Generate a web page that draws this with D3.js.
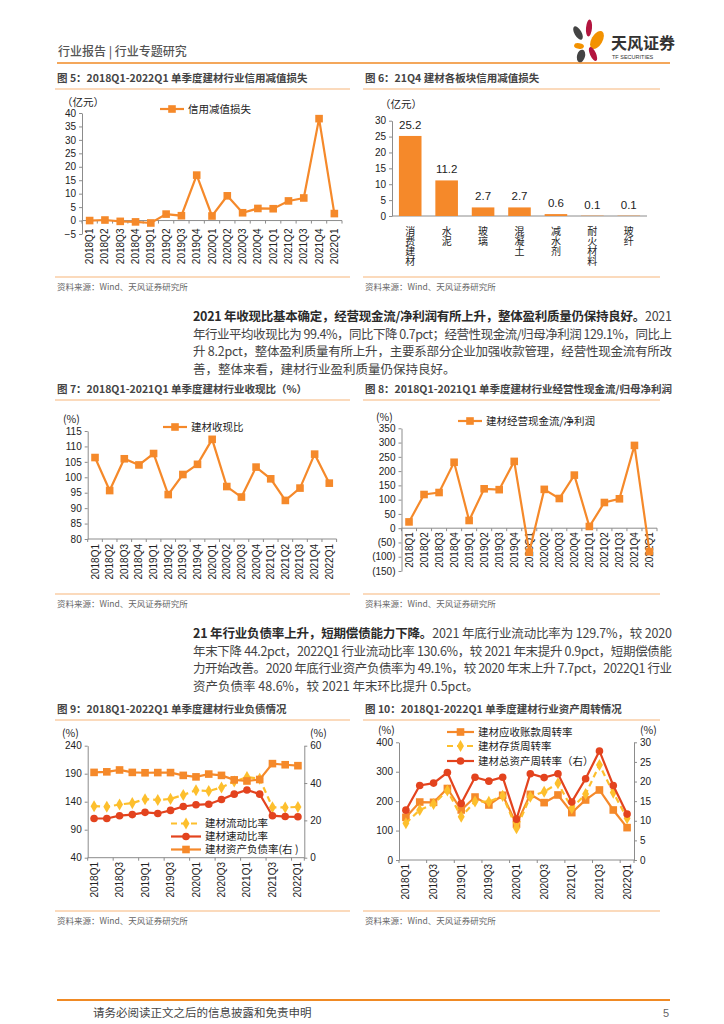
<!DOCTYPE html>
<html lang="zh-CN">
<head>
<meta charset="UTF-8">
<title>建材行业专题研究</title>
<script src="https://cdn.jsdelivr.net/npm/d3@7/dist/d3.min.js"></script>
<style>
	body { margin: 0; background: #fff; }
	svg { display: block; font-family: "Liberation Sans", "Noto Sans CJK SC", sans-serif; }
	.tick text { fill: #222; font-size: 10px; font-family: "Liberation Sans", "Noto Sans CJK SC", sans-serif; }
	.domain, .tick line { stroke: #8c8c8c; }
</style>
</head>
<body>
<svg width="724" height="1024"></svg>
<script>
// ---- data ----
const quarters = ["2018Q1","2018Q2","2018Q3","2018Q4","2019Q1","2019Q2","2019Q3","2019Q4",
	"2020Q1","2020Q2","2020Q3","2020Q4","2021Q1","2021Q2","2021Q3","2021Q4","2022Q1"];
const creditLoss = [0, 0.2, -0.3, -0.5, -0.9, 2.4, 1.8, 16.9, 1.7, 9.2, 2.9, 4.5, 4.4, 7.3, 8.4, 37.9, 2.6];
const sectors = ["消费建材","水泥","玻璃","混凝土","减水剂","耐火材料","玻纤"];
const sectorLoss = [25.2, 11.2, 2.7, 2.7, 0.6, 0.1, 0.1];
const cashRatio = [106.4, 95.7, 106, 104, 107.7, 94.4, 100.9, 104.2, 112.3, 97, 93.6, 103.3, 99.5, 92.5, 96.5, 107.5, 98.1];
const ocfRatio = [22, 118, 125, 231, 27, 138, 135, 234, -84, 136, 104, 186, 6, 90, 103, 290, -82];
const currentRatio = [132, 131, 135, 137.5, 144.5, 143, 145, 152, 160.5, 159, 165.5, 176, 184, 181, 130, 129.7, 130.6];
const quickRatio = [110, 110, 115, 117, 121, 119, 124.5, 131.5, 134.5, 135.5, 144, 153.5, 161, 153.5, 115, 113.5, 113];
const debtRatio = [45.7, 46, 47, 45.7, 45.5, 45.6, 45.6, 44.1, 43.3, 44.8, 44.1, 41.7, 41.1, 41.9, 50.4, 49.8, 49.3];
const arTurnover = [145, 197, 196, 243, 170, 214, 187, 220, 122, 223, 195, 221, 161, 204, 238, 170, 110];
const invTurnover = [125, 170, 190, 236, 147, 199, 198, 218, 108, 215, 232, 261, 176, 224, 323, 229, 142];
const assetTurnover = [12.7, 19.0, 19.6, 22.3, 14.4, 21.1, 20.1, 21.1, 10.4, 22.0, 21.0, 22.0, 14.8, 20.7, 27.8, 19.0, 11.7];

const ORANGE = "#F5892A", YELLOW = "#FDBF2D", RED = "#E3431E", LINE = "#F7B57A";

const svg = d3.select("svg");

// ---- page header / footer ----
svg.append("text").attr("x", 58).attr("y", 56).attr("font-size", 12).attr("fill", "#555")
	.attr("font-family", "Noto Sans CJK SC").attr("font-weight", 500).text("行业报告 | 行业专题研究");
svg.append("line").attr("x1", 57).attr("x2", 670).attr("y1", 63).attr("y2", 63)
	.attr("stroke", "#F08A24").attr("stroke-width", 1.6);
const logo = svg.append("g");
[[578, 33, 3.5, 7.5, -30, "#444"], [589, 28, 3, 8.5, 5, "#B3153F"], [597, 40, 5.5, 10, 30, "#F39200"],
 [579, 46, 5, 2.8, 10, "#F39200"], [593, 54, 3, 7.5, -25, "#B3153F"], [581, 56, 4, 6.5, 15, "#444"]]
	.forEach(p => logo.append("ellipse").attr("cx", p[0]).attr("cy", p[1]).attr("rx", p[2]).attr("ry", p[3])
		.attr("transform", `rotate(${p[4]},${p[0]},${p[1]})`).attr("fill", p[5]));
svg.append("text").attr("x", 611).attr("y", 49).attr("font-size", 16).attr("font-weight", "bold")
	.attr("fill", "#333").attr("font-family", "Noto Sans CJK SC").text("天风证券");
svg.append("text").attr("x", 612).attr("y", 59).attr("font-size", 5.5).attr("fill", "#333").text("TF SECURITIES");

svg.append("line").attr("x1", 57).attr("x2", 670).attr("y1", 1000).attr("y2", 1000)
	.attr("stroke", "#F08A24").attr("stroke-width", 2);
svg.append("text").attr("x", 93).attr("y", 1017).attr("font-size", 11.5).attr("fill", "#444")
	.attr("font-family", "Noto Sans CJK SC").text("请务必阅读正文之后的信息披露和免责申明");
svg.append("text").attr("x", 663).attr("y", 1017).attr("font-size", 11).attr("fill", "#666").text("5");

// ---- figure frame: title, underline, source ----
function frame(x0, x1, titleY, srcY, title) {
	svg.append("text").attr("x", x0 + 2).attr("y", titleY).attr("font-size", 10.5).attr("font-weight", "bold")
		.attr("fill", "#444").attr("font-family", "Noto Sans CJK SC").text(title);
	svg.append("line").attr("x1", x0).attr("x2", x1).attr("y1", titleY + 7).attr("y2", titleY + 7)
		.attr("stroke", LINE).attr("stroke-width", 1.2);
	svg.append("line").attr("x1", x0).attr("x2", x1).attr("y1", srcY - 13).attr("y2", srcY - 13)
		.attr("stroke", LINE).attr("stroke-width", 1.2);
	svg.append("text").attr("x", x0 + 2).attr("y", srcY).attr("font-size", 8.5).attr("fill", "#666")
		.attr("font-family", "Noto Sans CJK SC").text("资料来源：Wind、天风证券研究所");
}
frame(55, 350, 82, 290, "图 5：2018Q1-2022Q1 单季度建材行业信用减值损失");
frame(363, 660, 82, 290, "图 6：21Q4 建材各板块信用减值损失");
frame(55, 350, 393, 607, "图 7：2018Q1-2021Q1 单季度建材行业收现比（%）");
frame(363, 660, 393, 607, "图 8：2018Q1-2021Q1 单季度建材行业经营性现金流/归母净利润");
frame(55, 350, 713, 924, "图 9：2018Q1-2022Q1 单季度建材行业负债情况");
frame(363, 660, 713, 924, "图 10：2018Q1-2022Q1 单季度建材行业资产周转情况");

// ---- body paragraphs ----
function paragraph(y0, lines) {
	lines.forEach((ln, i) => {
		const t = svg.append("text").attr("x", 193).attr("y", y0 + i * 17.6).attr("font-size", 12.5)
			.attr("fill", "#3a3a3a").attr("font-family", "Noto Sans CJK SC");
		if (i < lines.length - 1) t.attr("textLength", 479).attr("lengthAdjust", "spacing");
		ln.forEach(seg => t.append("tspan").attr("font-weight", seg[1] ? "bold" : "normal")
			.attr("fill", seg[1] ? "#2a2a2a" : "#444").text(seg[0]));
	});
}
paragraph(321, [
	[["2021 年收现比基本确定，经营现金流/净利润有所上升，整体盈利质量仍保持良好。", 1], ["2021", 0]],
	[["年行业平均收现比为 99.4%，同比下降 0.7pct；经营性现金流/归母净利润 129.1%，同比上", 0]],
	[["升 8.2pct，整体盈利质量有所上升，主要系部分企业加强收款管理，经营性现金流有所改", 0]],
	[["善，整体来看，建材行业盈利质量仍保持良好。", 0]]
]);
paragraph(638, [
	[["21 年行业负债率上升，短期偿债能力下降。", 1], ["2021 年底行业流动比率为 129.7%，较 2020", 0]],
	[["年末下降 44.2pct，2022Q1 行业流动比率 130.6%，较 2021 年末提升 0.9pct，短期偿债能", 0]],
	[["力开始改善。2020 年底行业资产负债率为 49.1%，较 2020 年末上升 7.7pct，2022Q1 行业", 0]],
	[["资产负债率 48.6%，较 2021 年末环比提升 0.5pct。", 0]]
]);

// ---- chart helpers ----
function yAxis(x, scale, ticks, fmt, right) {
	const ax = (right ? d3.axisRight(scale) : d3.axisLeft(scale)).tickValues(ticks).tickSize(3).tickSizeOuter(0);
	if (fmt) ax.tickFormat(fmt);
	const g = svg.append("g").attr("transform", `translate(${x},0)`).call(ax);
	g.selectAll(".tick text").attr("font-size", 10.5);
	return g;
}
function xAxis(xs, y, labelY, every) {
	const [a, b] = xs.range();
	svg.append("line").attr("x1", a).attr("x2", b).attr("y1", y).attr("y2", y).attr("stroke", "#8c8c8c");
	xs.domain().forEach((c, i) => {
		if (i % every === 0)
			svg.append("line").attr("x1", xs(c)).attr("x2", xs(c)).attr("y1", y).attr("y2", y + 3).attr("stroke", "#8c8c8c");
	});
	svg.append("line").attr("x1", b).attr("x2", b).attr("y1", y).attr("y2", y + 3).attr("stroke", "#8c8c8c");
	xs.domain().forEach((c, i) => {
		if (i % every !== 0) return;
		const cx = xs(c) + xs.bandwidth() / 2;
		svg.append("text").attr("transform", `translate(${cx},${labelY}) rotate(-90)`)
			.attr("text-anchor", "end").attr("dy", "0.35em").attr("font-size", 10).attr("fill", "#222").text(c);
	});
}
function series(xs, ys, vals, color, marker, dash) {
	const cx = i => xs(quarters[i]) + xs.bandwidth() / 2;
	svg.append("path").attr("d", d3.line().x((d, i) => cx(i)).y(d => ys(d))(vals))
		.attr("fill", "none").attr("stroke", color).attr("stroke-width", 2.2)
		.attr("stroke-dasharray", dash ? "6,4" : null);
	vals.forEach((v, i) => drawMarker(cx(i), ys(v), color, marker));
}
function drawMarker(x, y, color, marker) {
	if (marker === "square")
		svg.append("rect").attr("x", x - 3.8).attr("y", y - 3.8).attr("width", 7.6).attr("height", 7.6).attr("fill", color);
	else if (marker === "circle")
		svg.append("circle").attr("cx", x).attr("cy", y).attr("r", 3.8).attr("fill", color);
	else
		svg.append("path").attr("transform", `translate(${x},${y})`)
			.attr("d", d3.symbol(d3.symbolDiamond, 42)()).attr("fill", color);
}
function legend(x, y, label, color, marker, dash, len) {
	len = len || 24;
	svg.append("line").attr("x1", x).attr("x2", x + len).attr("y1", y).attr("y2", y)
		.attr("stroke", color).attr("stroke-width", 2.2).attr("stroke-dasharray", dash ? "6,4" : null);
	drawMarker(x + len / 2, y, color, marker);
	svg.append("text").attr("x", x + len + 4).attr("y", y).attr("dy", "0.35em").attr("font-size", 10.5)
		.attr("fill", "#222").attr("font-family", "Noto Sans CJK SC").text(label);
}
function unit(x, y, t) {
	svg.append("text").attr("x", x).attr("y", y).attr("dy", "0.35em").attr("font-size", 10.5)
		.attr("fill", "#222").attr("font-family", "Noto Sans CJK SC").text(t);
}

// ---- chart 5 ----
{
	const x = d3.scaleBand().domain(quarters).range([82, 342]);
	const y = d3.scaleLinear().domain([-5, 40]).range([234, 113]);
	yAxis(82, y, d3.range(-5, 41, 5));
	xAxis(x, y(0), y(0) + 8, 1);
	series(x, y, creditLoss, ORANGE, "square");
	legend(160, 109, "信用减值损失", ORANGE, "square");
	unit(62, 102, "（亿元）");
}

// ---- chart 6 ----
{
	const x = d3.scaleBand().domain(sectors).range([392, 647]).paddingInner(0.38).paddingOuter(0.19);
	const y = d3.scaleLinear().domain([0, 30]).range([216, 120.7]);
	yAxis(392, y, d3.range(0, 31, 5));
	svg.append("line").attr("x1", 392).attr("x2", 647).attr("y1", y(0)).attr("y2", y(0)).attr("stroke", "#8c8c8c");
	sectors.forEach((s, i) => {
		svg.append("rect").attr("x", x(s)).attr("y", y(sectorLoss[i])).attr("width", x.bandwidth())
			.attr("height", y(0) - y(sectorLoss[i])).attr("fill", ORANGE);
		const cx = x(s) + x.bandwidth() / 2;
		svg.append("text").attr("x", cx).attr("y", y(sectorLoss[i]) - 7).attr("text-anchor", "middle")
			.attr("font-size", 11.5).attr("fill", "#222").text(sectorLoss[i].toFixed(1));
		// category names stacked vertically
		svg.append("text").attr("x", cx).attr("y", 226).attr("writing-mode", "vertical-rl")
			.attr("font-size", 10).attr("fill", "#222").attr("font-family", "Noto Sans CJK SC").text(s);
	});
	unit(380, 104, "（亿元）");
}

// ---- chart 7 ----
{
	const x = d3.scaleBand().domain(quarters).range([87.7, 336.6]);
	const y = d3.scaleLinear().domain([80, 115]).range([539, 431]);
	yAxis(87.7, y, d3.range(80, 116, 5));
	xAxis(x, y(80), y(80) + 5, 1);
	series(x, y, cashRatio, ORANGE, "square");
	legend(163, 427, "建材收现比", ORANGE, "square");
	unit(63, 419, "(%)");
}

// ---- chart 8 ----
{
	const x = d3.scaleBand().domain(quarters).range([401.5, 657]);
	const y = d3.scaleLinear().domain([-150, 350]).range([571, 428.3]);
	yAxis(401.5, y, d3.range(-150, 351, 50), v => v < 0 ? `(${-v})` : v);
	xAxis(x, y(0), y(0) + 4, 1);
	series(x, y, ocfRatio, ORANGE, "square");
	legend(458, 421, "建材经营现金流/净利润", ORANGE, "square");
	unit(376, 417, "(%)");
}

// ---- chart 9 ----
{
	const x = d3.scaleBand().domain(quarters).range([87.7, 304.3]);
	const yl = d3.scaleLinear().domain([40, 240]).range([857.7, 745.7]);
	const yr = d3.scaleLinear().domain([0, 60]).range([857.7, 745.7]);
	yAxis(87.7, yl, d3.range(40, 241, 50));
	yAxis(304.3, yr, d3.range(0, 61, 20), null, true);
	xAxis(x, 857.7, 862, 2);
	series(x, yl, currentRatio, YELLOW, "diamond", true);
	series(x, yl, quickRatio, RED, "circle");
	series(x, yr, debtRatio, ORANGE, "square");
	legend(171, 823.5, "建材流动比率", YELLOW, "diamond", true, 30);
	legend(171, 836.5, "建材速动比率", RED, "circle", false, 30);
	legend(171, 849.5, "建材资产负债率(右 )", ORANGE, "square", false, 30);
	unit(62, 733, "(%)");
	unit(310, 733, "(%)");
}

// ---- chart 10 ----
{
	const x = d3.scaleBand().domain(quarters).range([399, 634]);
	const yl = d3.scaleLinear().domain([0, 400]).range([860, 742.3]);
	const yr = d3.scaleLinear().domain([0, 30]).range([860, 742.3]);
	yAxis(399, yl, d3.range(0, 401, 100));
	yAxis(634, yr, d3.range(0, 31, 5), null, true);
	xAxis(x, 860, 864, 2);
	series(x, yl, arTurnover, ORANGE, "square");
	series(x, yl, invTurnover, YELLOW, "diamond", true);
	series(x, yr, assetTurnover, RED, "circle");
	legend(447, 732, "建材应收账款周转率", ORANGE, "square", false, 27);
	legend(447, 746, "建材存货周转率", YELLOW, "diamond", true, 27);
	legend(447, 761, "建材总资产周转率（右）", RED, "circle", false, 27);
	unit(378, 730, "(%)");
	unit(640, 730, "(%)");
}
</script>
</body>
</html>
